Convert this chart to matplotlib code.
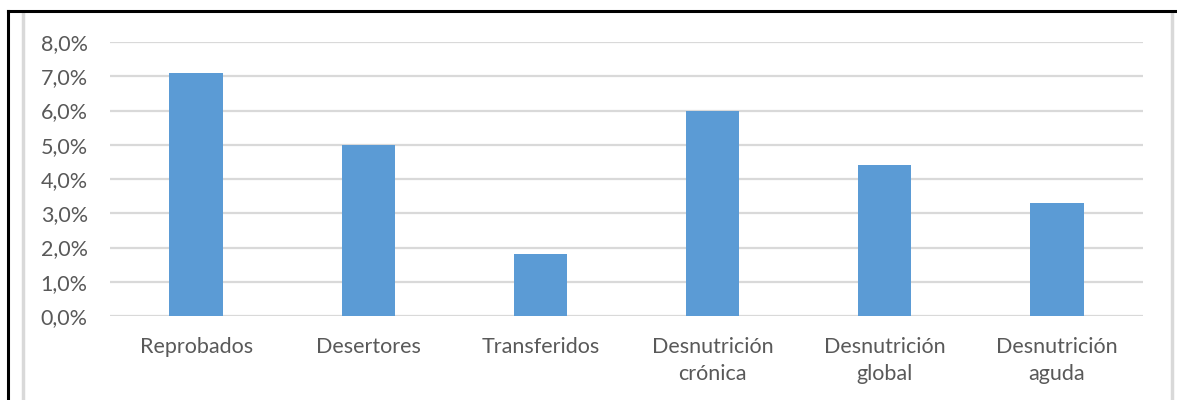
import matplotlib
matplotlib.use('Agg')
import matplotlib.pyplot as plt
from matplotlib.lines import Line2D
from matplotlib.ticker import FuncFormatter

categories = ['Reprobados', 'Desertores', 'Transferidos',
              'Desnutrición\ncrónica', 'Desnutrición\nglobal', 'Desnutrición\naguda']
values = [7.1, 5.0, 1.8, 6.0, 4.4, 3.3]  # percent

C_BAR = '#5B9BD5'; C_TXT = '#595959'; C_GRID = '#D9D9D9'

plt.rcParams['font.family'] = ['Lato', 'DejaVu Sans']

W, H = 1177, 400
fig = plt.figure(figsize=(W/100, H/100), dpi=100)
ax = fig.add_axes([110/W, 1-316/H, (1143-110)/W, (316-42)/H])

x = range(len(categories))
ax.bar(x, values, width=0.31, color=C_BAR, zorder=3)
ax.set_xlim(-0.5, len(categories)-0.5)
ax.set_ylim(0, 8)
ax.set_yticks(range(0, 9))
ax.yaxis.set_major_formatter(FuncFormatter(lambda v, _: f'{v:.1f}%'.replace('.', ',')))
ax.grid(axis='y', color=C_GRID, lw=1.6, zorder=0)
for s in ax.spines.values():
    s.set_visible(False)
ax.tick_params(length=0, colors=C_TXT, labelsize=15.5)
ax.tick_params(axis='y', pad=16)
ax.tick_params(axis='x', pad=15)
ax.set_xticks(list(x))
ax.set_xticklabels(categories, linespacing=1.45)

# chart frame + black borders
fig.add_artist(Line2D([23/W, 23/W], [0, 1-12/H], color=C_GRID, lw=2.5))
fig.add_artist(Line2D([1172/W, 1172/W], [0, 1-12/H], color=C_GRID, lw=2.5))
fig.add_artist(Line2D([8/W, 1], [1-11/H, 1-11/H], color='black', lw=2.2))
fig.add_artist(Line2D([8/W, 8/W], [0, 1-11/H], color='black', lw=2.2))

fig.savefig('out.png', dpi=100)
